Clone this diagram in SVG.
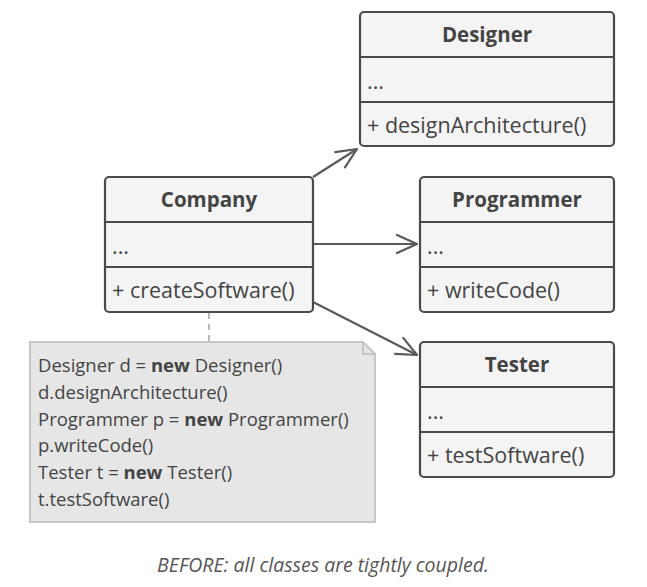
<svg xmlns="http://www.w3.org/2000/svg" width="647" height="587" viewBox="0 0 647 587">
<style>
.box{fill:#f4f4f4;stroke:#4a4a4a;stroke-width:2.2}
.div{stroke:#4a4a4a;stroke-width:2.2}
.t{font-family:"Open Sans","Noto Sans",sans-serif;font-size:21.5px;fill:#444}
.h{font-family:"Open Sans","Noto Sans",sans-serif;font-size:20.5px;font-weight:bold;fill:#444;text-anchor:middle}
.c{stroke:#5a5a5a;stroke-width:2.2;fill:none}
.n{font-family:"Open Sans","Noto Sans",sans-serif;font-size:18.5px;fill:#444}
</style>
<defs>
<marker id="arr" markerWidth="30" markerHeight="30" refX="24" refY="15" orient="auto" markerUnits="userSpaceOnUse">
<path d="M4,6 L24,15 L4,24" fill="none" stroke="#5a5a5a" stroke-width="2.2" stroke-linejoin="round" stroke-linecap="round"/>
</marker>
</defs>
<g id="connectors">
<line class="c" x1="313" y1="177" x2="357" y2="149" marker-end="url(#arr)"/>
<line class="c" x1="314" y1="244" x2="417" y2="244" marker-end="url(#arr)"/>
<line class="c" x1="313" y1="302" x2="417" y2="355" marker-end="url(#arr)"/>
<line x1="209" y1="313" x2="209" y2="342" stroke="#bbb" stroke-width="2" stroke-dasharray="6,5"/>
</g>
<g id="designer">
<rect class="box" x="360" y="12" width="254" height="134" rx="4"/>
<line class="div" x1="360" y1="57" x2="614" y2="57"/>
<line class="div" x1="360" y1="102" x2="614" y2="102"/>
<text class="h" x="487" y="42">Designer</text>
<text class="t" x="367" y="89">...</text>
<text class="t" x="367" y="133">+ designArchitecture()</text>
</g>
<g id="company">
<rect class="box" x="105" y="177" width="208" height="135" rx="4"/>
<line class="div" x1="105" y1="222" x2="313" y2="222"/>
<line class="div" x1="105" y1="267" x2="313" y2="267"/>
<text class="h" x="209" y="207">Company</text>
<text class="t" x="112" y="254">...</text>
<text class="t" x="112" y="298">+ createSoftware()</text>
</g>
<g id="programmer">
<rect class="box" x="420" y="177" width="194" height="135" rx="4"/>
<line class="div" x1="420" y1="222" x2="614" y2="222"/>
<line class="div" x1="420" y1="267" x2="614" y2="267"/>
<text class="h" x="517" y="207">Programmer</text>
<text class="t" x="427" y="254">...</text>
<text class="t" x="427" y="298">+ writeCode()</text>
</g>
<g id="tester">
<rect class="box" x="420" y="342" width="194" height="135" rx="4"/>
<line class="div" x1="420" y1="387" x2="614" y2="387"/>
<line class="div" x1="420" y1="432" x2="614" y2="432"/>
<text class="h" x="517" y="372">Tester</text>
<text class="t" x="427" y="419">...</text>
<text class="t" x="427" y="463">+ testSoftware()</text>
</g>
<g id="note">
<path d="M30,342 L363,342 L375,354 L375,522 L30,522 Z" fill="#e6e6e6" stroke="#c6c6c6" stroke-width="2"/>
<path d="M363,342 L363,354 L375,354" fill="none" stroke="#c6c6c6" stroke-width="2"/>
<text class="n" x="38" y="372">Designer d = <tspan font-weight="bold">new</tspan> Designer()</text>
<text class="n" x="38" y="399">d.designArchitecture()</text>
<text class="n" x="38" y="426">Programmer p = <tspan font-weight="bold">new</tspan> Programmer()</text>
<text class="n" x="38" y="452">p.writeCode()</text>
<text class="n" x="38" y="479">Tester t = <tspan font-weight="bold">new</tspan> Tester()</text>
<text class="n" x="38" y="506">t.testSoftware()</text>
</g>
<text x="323" y="572" text-anchor="middle" font-family="'Open Sans','Noto Sans',sans-serif" font-size="19.5px" font-style="italic" fill="#555">BEFORE: all classes are tightly coupled.</text>
</svg>
